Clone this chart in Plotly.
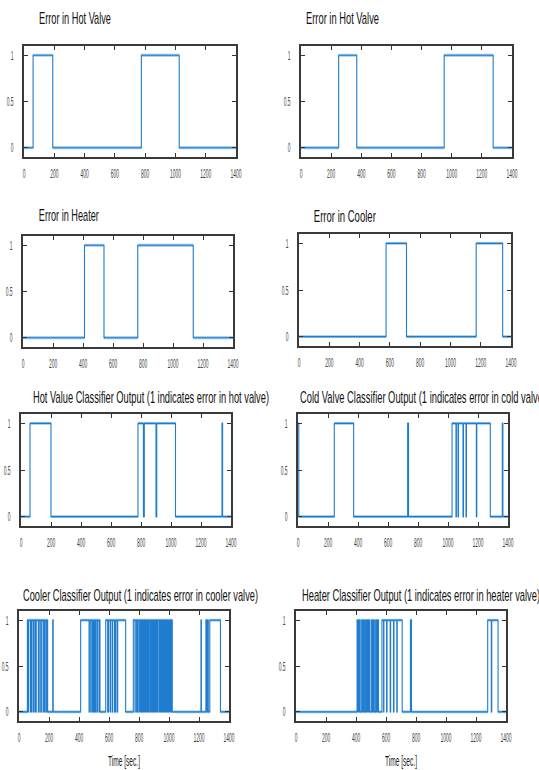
import plotly.graph_objects as go
from plotly.subplots import make_subplots

W, H = 539, 770
BLUE = "rgb(32,124,206)"
BLUE_BAND = "rgba(60,145,215,0.55)"
FONT = "Liberation Sans, Arial, sans-serif"

# ---------------- data (change-point times [sec] and signal value from that time on) -------------
titles = [
    "Error in Hot Valve",
    "Error in Hot Valve",
    "Error in Heater",
    "Error in Cooler",
    "Hot Value Classifier Output (1 indicates error in hot valve)",
    "Cold Valve Classifier Output (1 indicates error in cold valve)",
    "Cooler Classifier Output (1 indicates error in cooler valve)",
    "Heater Classifier Output (1 indicates error in heater valve)",
]

hot_err_t = [0, 60, 190, 775, 1025, 1400]
hot_err_v = [0, 1, 0, 1, 0, 0]

hot2_err_t = [0, 250, 370, 950, 1275, 1400]
hot2_err_v = [0, 1, 0, 1, 0, 0]

heater_err_t = [0, 410, 540, 765, 1135, 1400]
heater_err_v = [0, 1, 0, 1, 0, 0]

cooler_err_t = [0, 575, 710, 1170, 1345, 1400]
cooler_err_v = [0, 1, 0, 1, 0, 0]

hot_cls_t = [0, 60, 200, 780, 816, 822, 900, 905, 1030, 1340, 1344, 1400]
hot_cls_v = [0, 1, 0, 1, 0, 1, 0, 1, 0, 1, 0, 0]

cold_cls_t = [0, 5, 242, 371, 731, 737, 1027, 1053, 1056, 1067, 1070, 1100, 1103,
              1120, 1123, 1189, 1192, 1282, 1362, 1366, 1400]
cold_cls_v = [1, 0, 1, 0, 1, 0, 1, 0, 1, 0, 1, 0, 1,
              0, 1, 0, 1, 0, 1, 0, 0]

cooler_cls_t = [0, 56, 62, 64, 76, 78, 84, 86, 96, 98, 107, 109, 113, 115, 129, 131,
                140, 142, 151, 153, 164, 166, 173, 175, 184, 186, 191, 225, 228,
                411, 467, 469, 478, 480, 489, 491, 498, 500, 507, 509, 513, 515, 524, 526,
                536, 538, 540,
                578, 591, 593, 596, 598, 609, 611, 622, 624, 636, 638, 644, 646, 656, 658, 711,
                762, 773, 775, 784, 786, 793, 795, 804, 806, 813, 815, 822, 824, 831, 833,
                840, 842, 849, 851, 858, 860, 867, 869, 877, 879, 886, 888, 895, 897, 904, 906,
                913, 915, 922, 924, 933, 935, 942, 944, 951, 953, 960, 962, 969, 971, 978, 980,
                987, 989, 996, 998, 1005, 1007, 1013, 1015, 1022,
                1213, 1216, 1246, 1250, 1256, 1262, 1272, 1343, 1400]
cooler_cls_v = [0, 1, 0, 1, 0, 1, 0, 1, 0, 1, 0, 1, 0, 1, 0, 1,
                0, 1, 0, 1, 0, 1, 0, 1, 0, 1, 0, 1, 0,
                1, 0, 1, 0, 1, 0, 1, 0, 1, 0, 1, 0, 1, 0, 1,
                0, 1, 0,
                1, 0, 1, 0, 1, 0, 1, 0, 1, 0, 1, 0, 1, 0, 1, 0,
                1, 0, 1, 0, 1, 0, 1, 0, 1, 0, 1, 0, 1, 0, 1,
                0, 1, 0, 1, 0, 1, 0, 1, 0, 1, 0, 1, 0, 1, 0, 1,
                0, 1, 0, 1, 0, 1, 0, 1, 0, 1, 0, 1, 0, 1, 0, 1,
                0, 1, 0, 1, 0, 1, 0, 1, 0,
                1, 0, 1, 0, 1, 0, 1, 0, 0]

heater_cls_t = [0, 407, 414, 416, 421, 423, 428, 438, 444, 446, 450, 452, 456,
                464, 470, 472, 477, 479, 484, 486, 493, 504, 510, 512, 516, 518, 522,
                531, 537, 539, 543, 545, 550,
                573, 584, 586, 604, 607, 628, 631, 650, 653, 672, 675, 708,
                763, 770,
                1278, 1302, 1305, 1347, 1400]
heater_cls_v = [0, 1, 0, 1, 0, 1, 0, 1, 0, 1, 0, 1, 0,
                1, 0, 1, 0, 1, 0, 1, 0, 1, 0, 1, 0, 1, 0,
                1, 0, 1, 0, 1, 0,
                1, 0, 1, 0, 1, 0, 1, 0, 1, 0, 1, 0,
                1, 0,
                1, 0, 1, 0, 0]

x_ticks = [0, 200, 400, 600, 800, 1000, 1200, 1400]
y_ticks = [0, 0.5, 1]
y_tick_labels = ["0", "0.5", "1"]
x_label = "Time [sec.]"

series = [
    (hot_err_t, hot_err_v), (hot2_err_t, hot2_err_v),
    (heater_err_t, heater_err_v), (cooler_err_t, cooler_err_v),
    (hot_cls_t, hot_cls_v), (cold_cls_t, cold_cls_v),
    (cooler_cls_t, cooler_cls_v), (heater_cls_t, heater_cls_v),
]

# ---------------- layout (pixel boxes: left, right, top, bottom) ----------------
boxes = [
    (24, 236, 46, 157), (301, 512, 46, 157),
    (23, 233, 236, 347), (299, 511, 234, 346),
    (21, 231, 414, 526), (298, 508, 414, 526),
    (19, 229, 611, 721), (296, 506, 611, 721),
]
title_pos = [  # center x, center y, squeezed width
    (75, 18, 72), (342, 18, 73), (69, 215, 60), (345, 217, 62),
    (151, 397, 236), (423, 397, 246), (140, 595, 235), (421, 595, 238),
]
xlabel_w = 32
TICK_SQUEEZE = 0.38


def flat_segments(t, v):
    xs, ys = [], []
    for k in range(len(t) - 1):
        xs += [t[k], t[k + 1], None]
        ys += [v[k], v[k], None]
    return xs, ys


fig = make_subplots(rows=4, cols=2)

for i, ((t, v), box) in enumerate(zip(series, boxes)):
    r, c = i // 2 + 1, i % 2 + 1
    hx, hy = flat_segments(t, v)
    fig.add_trace(go.Scatter(x=hx, y=hy, mode="lines",
                             line=dict(color=BLUE_BAND, width=2.8),
                             showlegend=False, hoverinfo="skip"), row=r, col=c)
    fig.add_trace(go.Scatter(x=t, y=v, mode="lines",
                             line=dict(shape="hv", color=BLUE, width=1.1),
                             showlegend=False, hoverinfo="skip"), row=r, col=c)
    l, rr, tp, bt = box
    n = "" if i == 0 else str(i + 1)
    fig.layout["xaxis" + n].update(
        domain=[l / W, rr / W], range=[0, 1400], tickvals=x_ticks, tickangle=0,
        ticks="inside", ticklen=4, tickwidth=1, tickcolor="#333",
        showline=True, linecolor="#3a3a3a", linewidth=1.6, mirror="allticks",
        showgrid=False, zeroline=False, fixedrange=True, automargin=False,
        tickfont=dict(family=FONT, size=13, color="#444"), ticklabelstandoff=4)
    fig.layout["yaxis" + n].update(
        domain=[1 - bt / H, 1 - tp / H], range=[-0.1, 1.1], tickvals=y_ticks,
        ticktext=y_tick_labels,
        ticks="inside", ticklen=4, tickwidth=1, tickcolor="#333",
        showline=True, linecolor="#3a3a3a", linewidth=1.6, mirror="allticks",
        showgrid=False, zeroline=False, fixedrange=True, automargin=False,
        tickfont=dict(family=FONT, size=13, color="#444"), ticklabelstandoff=6)

annotations = []
widths = []
for txt, (tx, ty, tw) in zip(titles, title_pos):
    annotations.append(dict(text=txt, x=tx / W, y=1 - ty / H, xref="paper", yref="paper",
                            xanchor="center", yanchor="middle", showarrow=False,
                            width=tw + 6,
                            font=dict(family=FONT, size=17, color="#111")))
    widths.append(tw)
for i in (6, 7):
    l, rr, tp, bt = boxes[i]
    annotations.append(dict(text=x_label, x=(l + rr) / 2 / W, y=1 - 761 / H,
                            xref="paper", yref="paper", xanchor="center", yanchor="middle",
                            showarrow=False, width=xlabel_w + 6,
                            font=dict(family=FONT, size=14, color="#222")))
    widths.append(xlabel_w)

fig.update_layout(width=W, height=H, margin=dict(l=0, r=0, t=0, b=0),
                  paper_bgcolor="white", plot_bgcolor="white",
                  annotations=annotations, showlegend=False)

post_js = """
document.documentElement.style.overflow='hidden';
document.body.style.margin='0';
document.body.style.overflow='hidden';
(function(){
  var gd=document.getElementById('{plot_id}');
  var TW=__TW__;
  function sq(){
    var anns=gd.querySelectorAll('g.annotation text.annotation-text');
    anns.forEach(function(el,i){
      if(i<TW.length){el.setAttribute('textLength',TW[i]);el.setAttribute('lengthAdjust','spacingAndGlyphs');}
    });
    gd.querySelectorAll('g[class$="tick"] > text').forEach(function(el){
      if(!el.getAttribute('data-sq')){
        var w=el.getComputedTextLength();
        el.setAttribute('textLength', w*__SQ__);
        el.setAttribute('lengthAdjust','spacingAndGlyphs');
        el.setAttribute('data-sq','1');
      }
    });
  }
  sq();
  if(gd.on){gd.on('plotly_afterplot', sq);}
})();
""".replace("__TW__", str(widths)).replace("__SQ__", str(TICK_SQUEEZE))

fig.write_html("out.html", post_script=post_js, config={"displayModeBar": False})
